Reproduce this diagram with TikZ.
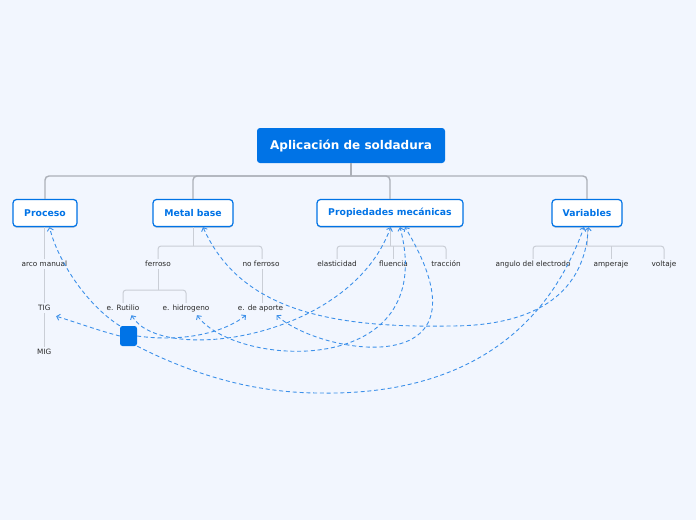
\documentclass[tikz,border=0pt]{standalone}
\usepackage{fontspec}
\setmainfont{DejaVu Sans}
\usetikzlibrary{arrows.meta,shadows}
\definecolor{bg}{RGB}{242,246,254}
\definecolor{mblue}{RGB}{0,115,230}
\definecolor{lgray}{RGB}{172,176,184}
\definecolor{sgray}{RGB}{202,206,214}
\definecolor{dblue}{RGB}{60,144,234}
\definecolor{txt}{RGB}{40,40,40}
\tikzset{
  roottopic/.style={fill=mblue, rounded corners=3pt, text=white,
    font=\fontsize{12}{14}\selectfont\bfseries, minimum width=188pt,
    minimum height=35pt, inner sep=0pt},
  maintopic/.style={draw=mblue, line width=1.2pt, fill=white, rounded corners=3.5pt,
    text=mblue, font=\fontsize{9.3}{11}\selectfont\bfseries, minimum height=27pt,
    inner sep=0pt, drop shadow={opacity=0.22, shadow xshift=0pt, shadow yshift=-1.3pt, fill=mblue!50!black}},
  subtopic/.style={text=txt, font=\fontsize{7.3}{9}\selectfont, inner sep=1.5pt,
    text height=5.5pt, text depth=1.5pt},
  floatsq/.style={fill=mblue, rounded corners=2.5pt, minimum width=17pt,
    minimum height=20pt, inner sep=0pt},
  mainline/.style={draw=lgray, line width=1.4pt, rounded corners=4pt},
  subline/.style={draw=sgray, line width=1pt, rounded corners=3pt},
  rel/.style={draw=dblue, line width=0.9pt, dash pattern=on 4pt off 2.8pt},
  >={Straight Barb[length=3pt,width=6.2pt]},
}
\begin{document}
\begin{tikzpicture}[x=1pt,y=-1pt]
\fill[bg] (0,0) rectangle (696,520);
\useasboundingbox (0,0) rectangle (696,520);

% topics
\node[roottopic] (root) at (351,145.5) {Aplicación de soldadura};
\node[maintopic, minimum width=64pt] (proc) at (45,213) {Proceso};
\node[maintopic, minimum width=80pt] (metal) at (193,213) {Metal base};
\node[maintopic, minimum width=146pt] (prop) at (390,213) {Propiedades mecánicas};
\node[maintopic, minimum width=70pt] (var) at (587,213) {Variables};

% subtopics
\node[subtopic] (arco) at (44.3,264) {arco manual};
\node[subtopic] (tig) at (44.3,308) {TIG};
\node[subtopic] (mig) at (44.3,352) {MIG};
\node[subtopic] (ferr) at (158,264) {ferroso};
\node[subtopic] (noferr) at (261,264) {no ferroso};
\node[subtopic] (rut) at (123,308) {e. Rutilio};
\node[subtopic] (hid) at (186,308) {e. hidrogeno};
\node[subtopic] (aporte) at (260.5,308) {e. de aporte};
\node[subtopic] (elas) at (337,264) {elasticidad};
\node[subtopic] (flu) at (393.5,264) {fluencia};
\node[subtopic] (trac) at (446,264) {tracción};
\node[subtopic] (ang) at (533,264) {angulo del electrodo};
\node[subtopic] (amp) at (611,264) {amperaje};
\node[subtopic] (volt) at (664,264) {voltaje};

% main tree lines
\draw[mainline] (root.south) -- (root.south |- 0,176);
\draw[mainline] (root.south |- 0,176) -| (proc.north);
\draw[mainline] (root.south |- 0,176) -| (metal.north);
\draw[mainline] (root.south |- 0,176) -| (prop.north);
\draw[mainline] (root.south |- 0,176) -| (var.north);

% sub tree lines
\draw[subline] (arco.north |- proc.south) -- (arco.north);
\draw[subline] (arco.south) -- (tig.north);
\draw[subline] (tig.south) -- (mig.north);

\draw[subline] (metal.south) -- (metal.south |- 0,246);
\draw[subline] (metal.south |- 0,246) -| (ferr.north);
\draw[subline] (metal.south |- 0,246) -| ([xshift=1pt]noferr.north);
\draw[subline] (ferr.south) -- (ferr.south |- 0,290);
\draw[subline] (ferr.south |- 0,290) -| (rut.north);
\draw[subline] (ferr.south |- 0,290) -| (hid.north);
\draw[subline] ([xshift=1pt]noferr.south) -- ([xshift=1.5pt]aporte.north);

\draw[subline] (prop.south) -- (prop.south |- 0,246);
\draw[subline] (prop.south |- 0,246) -| (elas.north);
\draw[subline] (prop.south |- 0,246) -| (trac.north);
\draw[subline] (flu.north |- 0,246) -- (flu.north);

\draw[subline] (var.south) -- (var.south |- 0,246);
\draw[subline] (var.south |- 0,246) -| (ang.north);
\draw[subline] (var.south |- 0,246) -| (volt.north);
\draw[subline] (amp.north |- 0,246) -- (amp.north);

% floating square
\node[floatsq] (sq) at (128.5,336) {};

% relationships
\draw[rel,->] (sq.west) .. controls (100,331) and (75,322) .. ([xshift=4pt,yshift=-3pt]tig.south east);
\draw[rel,->] (sq.north west) .. controls (88,306) and (58,262) .. ([xshift=4.5pt]proc.south);
\draw[rel,->] (sq.south east) .. controls (200,378) and (260,393) .. (320,393)
   .. controls (440,395) and (540,350) .. ([xshift=-3pt]var.south);
\draw[rel,->] (sq.east) .. controls (180,342) and (222,334) .. ([xshift=-14.5pt,yshift=-2pt]aporte.south);
\draw[rel,<->] ([xshift=8.5pt,yshift=-2pt]rut.south) .. controls (160,365) and (350,340) .. ([xshift=0.7pt]prop.south);
\draw[rel,<->] ([xshift=11pt,yshift=-2pt]hid.south) .. controls (235,368) and (440,380) .. ([xshift=10pt]prop.south);
\draw[rel,<->] ([xshift=16pt,yshift=-2pt]aporte.south) .. controls (320,355) and (500,385) .. ([xshift=15pt]prop.south);
\draw[rel,<->] ([xshift=10pt]metal.south) .. controls (240,310) and (330,328) .. (450,326)
   .. controls (540,326) and (585,290) .. ([xshift=1.3pt]var.south);
\end{tikzpicture}
\end{document}
